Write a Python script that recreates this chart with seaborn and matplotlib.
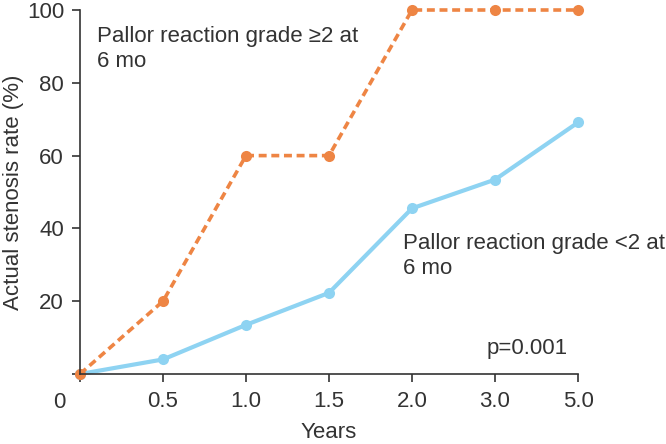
import numpy as np
import pandas as pd
import seaborn as sns
import matplotlib.pyplot as plt

# values
years = ['0', '0.5', '1.0', '1.5', '2.0', '3.0', '5.0']
pallor_high = [0, 20, 60, 60, 100, 100, 100]      # grade >=2 at 6 mo
pallor_low = [0, 4.0, 13.5, 22.3, 45.5, 53.4, 69.1]  # grade <2 at 6 mo

ORANGE = '#EE8544'
BLUE = '#8ED3F2'
INK = '#333333'

sns.set_style('ticks')
plt.rcParams['font.family'] = ['Liberation Sans', 'DejaVu Sans']

pos = np.arange(len(years))
df = pd.DataFrame({'pos': np.concatenate([pos, pos]),
                   'rate': pallor_high + pallor_low,
                   'group': ['high'] * len(years) + ['low'] * len(years)})

fig = plt.figure(figsize=(6.66, 4.44), dpi=100)
ax = fig.add_axes([80 / 666, 1 - 374 / 444, 498 / 666, 364 / 444])

sns.lineplot(data=df[df.group == 'low'], x='pos', y='rate', color=BLUE,
             lw=3, marker='o', markersize=8, markeredgewidth=0, ax=ax, clip_on=False)
sns.lineplot(data=df[df.group == 'high'], x='pos', y='rate', color=ORANGE,
             lw=2.6, linestyle=(0, (2.2, 1.3)), marker='o', markersize=8,
             markeredgewidth=0, ax=ax, clip_on=False)

ax.set_xlim(0, 6)
ax.set_ylim(0, 100)
ax.set_xticks(pos)
ax.set_xticklabels([''] + years[1:])
ax.set_yticks([0, 20, 40, 60, 80, 100])
ax.set_yticklabels([''] + ['20', '40', '60', '80', '100'])
ax.annotate('0', xy=(0, 0), xytext=(-21, -28), textcoords='offset pixels',
            ha='center', va='center', fontsize=16, color=INK)

ax.tick_params(axis='both', labelsize=16, colors=INK, length=5.5, width=1.2, direction='out')
ax.tick_params(axis='x', pad=7)
ax.tick_params(axis='y', pad=6)
for s in ['left', 'bottom']:
    ax.spines[s].set_color(INK)
    ax.spines[s].set_linewidth(1.2)
sns.despine(ax=ax)

ax.set_xlabel('Years', fontsize=16, color=INK, labelpad=7)
ax.set_ylabel('Actual stenosis rate (%)', fontsize=16, color=INK)
ax.yaxis.set_label_coords(-56 / 498, 0.5)

ax.text(0.205, 95.5, 'Pallor reaction grade \u22652 at\n6 mo', fontsize=16,
        color=INK, va='top', ha='left', linespacing=1.25)
ax.text(3.89, 38.8, 'Pallor reaction grade <2 at\n6 mo', fontsize=16,
        color=INK, va='top', ha='left', linespacing=1.25)
ax.text(5.88, 9.9, 'p=0.001', fontsize=16, color=INK, va='top', ha='right')

fig.savefig('out.png', dpi=100)
